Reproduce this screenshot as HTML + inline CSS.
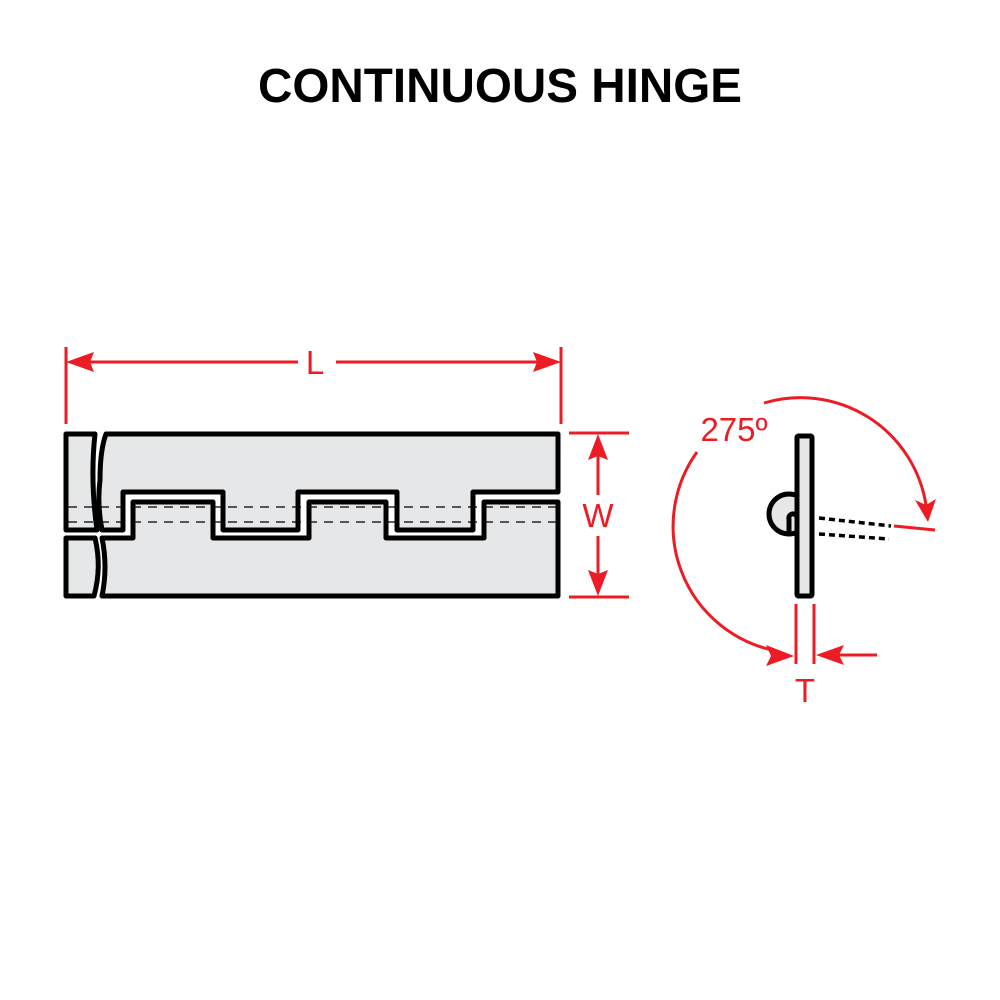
<!DOCTYPE html>
<html><head><style>body{margin:0;background:#fff}svg{display:block}</style></head><body>
<svg width="1000" height="1000" viewBox="0 0 1000 1000" xmlns="http://www.w3.org/2000/svg">
<text x="500" y="102" text-anchor="middle" font-family="Liberation Sans, sans-serif" font-weight="bold" font-size="48" textLength="484" lengthAdjust="spacingAndGlyphs">CONTINUOUS HINGE</text>
<g stroke="#000" stroke-width="5" stroke-linejoin="round" fill="#e6e7e8">
<path d="M66 434 H95 Q90 480 97 530 H66 Z"/>
<path d="M66 538 H95 Q102 567 94 596 H66 Z"/>
<path d="M106 434 H558 V492 H473 V530 H397 V492 H298 V530 H223 V492 H123 V530 H102 Q97 505 100 480 Q100 450 106 434 Z"/>
<path d="M102 538 H133 V502 H213 V538 H309 V502 H386 V538 H484 V502 H558 V596 H102 Q108 567 102 538 Z"/>
</g>
<g stroke="#000" stroke-width="1.2" stroke-dasharray="9,7" fill="none">
<line x1="68" y1="507" x2="556" y2="507"/><line x1="68" y1="522" x2="556" y2="522"/>
</g>
<!-- side view -->
<g stroke="#000" stroke-width="5" stroke-linejoin="round" fill="#e6e7e8">
<circle cx="789" cy="514" r="20"/>
<path d="M789 536 V519 A4 4 0 0 1 797 517" fill="none"/>
<rect x="797" y="436" width="15" height="160" rx="1.5"/>
</g>
<g stroke="#000" stroke-width="3.5" stroke-dasharray="6,4" fill="none">
<line x1="819" y1="518" x2="891" y2="526"/><line x1="819" y1="534" x2="889" y2="539"/>
</g>
<g stroke="#ed1c24" stroke-width="3" fill="none">
<line x1="66" y1="347" x2="66" y2="424"/><line x1="561" y1="347" x2="561" y2="424"/>
<line x1="88" y1="362" x2="298" y2="362"/><line x1="336" y1="362" x2="540" y2="362"/>
<line x1="569" y1="433" x2="629" y2="433"/><line x1="569" y1="597" x2="629" y2="597"/>
<line x1="598" y1="455" x2="598" y2="495"/><line x1="598" y1="536" x2="598" y2="576"/>
<line x1="796" y1="604" x2="796" y2="664"/><line x1="814" y1="604" x2="814" y2="664"/>
<line x1="836" y1="655" x2="877" y2="655"/>
<line x1="894" y1="526" x2="935" y2="530"/>
<path d="M697 452 A127 127 0 0 0 772 650"/>
<path d="M764 403 A127 127 0 0 1 926 505"/>
</g>
<g fill="#ed1c24">
<polygon points="66,362 94,352 90,362 94,372"/>
<polygon points="561,362 533,352 537,362 533,372"/>
<polygon points="598,434 588,460 598,456 608,460"/>
<polygon points="598,596 588,570 598,574 608,570"/>
<polygon points="794,656 766,645 771,656 766,666"/>
<polygon points="816,655 844,645 839,655 844,665"/>
<polygon points="928,522 915,500 926,505 936,499"/>
</g>
<g fill="#ed1c24" font-family="Liberation Sans, sans-serif" font-size="33" text-anchor="middle">
<text x="315" y="374">L</text>
<text x="598" y="527">W</text>
<text x="805" y="702">T</text>
<text x="734" y="441">275º</text>
</g>
</svg>
</body></html>
